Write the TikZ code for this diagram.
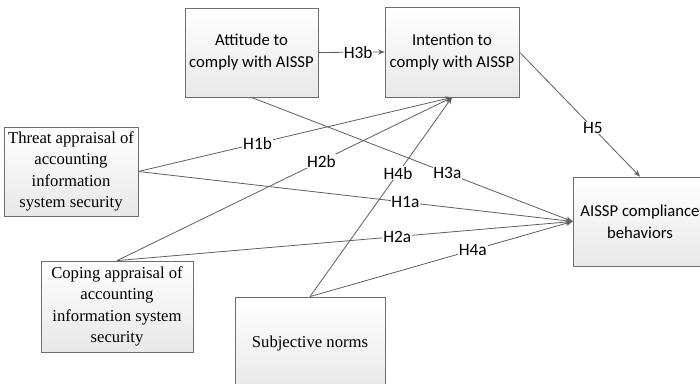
\documentclass[tikz,border=0pt]{standalone}
\usepackage{fontspec}
\setmainfont{Liberation Serif}
\newfontfamily\calfont{Carlito}
\usetikzlibrary{arrows.meta}
\definecolor{linegray}{RGB}{95,95,95}
\definecolor{boxgray}{RGB}{110,110,110}
\tikzset{
  box/.style={draw=boxgray, line width=0.6pt, top color=white, bottom color=black!9,
    align=center, inner sep=1pt, text=black},
  calbox/.style={box, font=\calfont\fontsize{12.5}{16.5}\selectfont},
  serbox/.style={box, font=\fontsize{12.5}{16}\selectfont},
  link/.style={draw=linegray, line width=0.6pt},
  arr/.style={link, -{Stealth[length=5pt,width=4pt]}},
  hlab/.style={fill=white, inner sep=0.6pt, font=\calfont\fontsize{13}{15}\selectfont, pos=0.61}
}
\begin{document}
\begin{tikzpicture}[x=0.75pt,y=-0.75pt]
\useasboundingbox (0,0) rectangle (700,383);
\clip (0,0) rectangle (700,383);
\fill[white] (0,0) rectangle (700,383);

\node[calbox, minimum width=99.75pt, minimum height=66.75pt] (att) at (251.5,52.5) {Attitude to\\comply with AISSP};
\node[calbox, minimum width=100.5pt, minimum height=67.5pt] (int) at (452,52) {Intention to\\comply with AISSP};
\node[serbox, minimum width=100.5pt, minimum height=66.75pt] (thr) at (71,171.5) {Threat appraisal of\\accounting\\information\\system security};
\node[serbox, minimum width=114pt, minimum height=68.25pt] (cop) at (117,306.5) {Coping appraisal of\\accounting\\information system\\security};
\node[serbox, minimum width=112.5pt, minimum height=69pt] (sub) at (310,343) {Subjective norms};
\node[calbox, minimum width=100.5pt, minimum height=66.75pt] (beh) at (640,221.5) {AISSP compliance\\behaviors};

\draw[arr] (att.east) -- node[hlab, pos=0.6] {H3b} (int.west);
\draw[arr] (att.south) -- node[hlab] {H3a} (beh.west);
\draw[arr] (thr.east) -- node[hlab, pos=0.38] {H1b} (int.south);
\draw[arr] (thr.east) -- node[hlab, pos=0.615] {H1a} (beh.west);
\draw[arr] (cop.north) -- node[hlab] {H2b} (int.south);
\draw[arr] (cop.north) -- node[hlab, pos=0.615] {H2a} (beh.west);
\draw[arr] (sub.north) -- node[hlab, pos=0.62] {H4b} (int.south);
\draw[arr] (sub.north) -- node[hlab, pos=0.62] {H4a} (beh.west);
\draw[arr] (int.east) -- node[hlab] {H5} (beh.north);
\end{tikzpicture}
\end{document}
